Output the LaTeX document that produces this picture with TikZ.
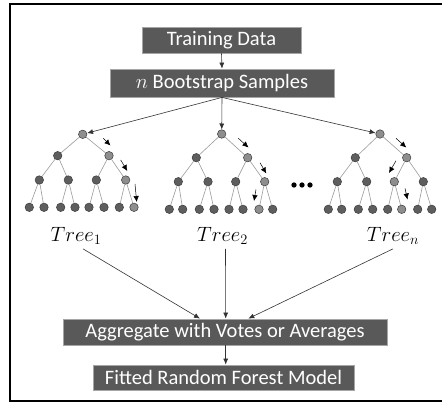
\documentclass[tikz,border=0pt]{standalone}
\usepackage{fontspec}
\setmainfont{Carlito}
\usetikzlibrary{arrows.meta}

\definecolor{boxfill}{HTML}{595959}
\definecolor{boxline}{HTML}{A6A6A6}
\definecolor{nodefill}{HTML}{5E5E5E}
\definecolor{nodehl}{HTML}{8E8E8E}
\definecolor{nodeline}{HTML}{3C3C3C}
\definecolor{edgegray}{HTML}{9A9A9A}

\tikzset{
  stage/.style={draw=boxline, line width=0.8pt, fill=boxfill, text=white,
    inner sep=0pt, font=\fontsize{20.5}{24}\selectfont},
  nd/.style={circle, draw=nodeline, line width=0.5pt, fill=nodefill,
    minimum size=8.5pt, inner sep=0pt},
  hl/.style={nd, fill=nodehl},
  edge/.style={draw=edgegray, line width=0.6pt},
  flow/.style={draw=black!80, line width=0.6pt, -{Latex[length=6pt,width=5pt]}},
  walk/.style={draw=black, line width=0.5pt, -{Latex[length=6pt,width=5.5pt]}},
  treelab/.style={inner sep=0pt, font=\fontsize{19.5}{24}\selectfont},
}

% one level of a tree: prefix, y, highlighted index, x positions
\newcommand\treelevel[4]{%
  \foreach \x [count=\i] in {#4} {%
    \ifnum\i=#3\relax\def\st{hl}\else\def\st{nd}\fi
    \node[\st] (#1\i) at (\x,#2) {};
  }%
}
% the branches of a full binary tree of depth four
\newcommand\treeedges[1]{%
  \draw[edge] (#1a1) -- (#1b1) (#1a1) -- (#1b2);
  \foreach \i in {1,2} {%
    \pgfmathtruncatemacro\p{2*\i-1}\pgfmathtruncatemacro\q{2*\i}%
    \draw[edge] (#1b\i) -- (#1c\p) (#1b\i) -- (#1c\q);
  }%
  \foreach \i in {1,...,4} {%
    \pgfmathtruncatemacro\p{2*\i-1}\pgfmathtruncatemacro\q{2*\i}%
    \draw[edge] (#1c\i) -- (#1d\p) (#1c\i) -- (#1d\q);
  }%
}

\begin{document}
\begin{tikzpicture}[x=1pt,y=-1pt]
\useasboundingbox (0,0) rectangle (442,402);

% outer frame
\draw[black, line width=1.3pt] (443,4) -- (10,4) -- (10,401) -- (443,401);

% stages
\node[stage, minimum width=159pt, minimum height=26pt] (train) at (221.5,40) {Training Data};
\node[stage, minimum width=224pt, minimum height=28pt] (boot) at (222,83) {$n$ Bootstrap Samples};
\node[stage, minimum width=324pt, minimum height=26pt] (agg) at (225,332) {Aggregate with Votes or Averages};
\node[stage, minimum width=261pt, minimum height=25pt] (fit) at (223.5,377.5) {Fitted Random Forest Model};

% tree 1
\treelevel{pa}{134.3}{1}{82.7}
\treelevel{pb}{155.7}{2}{57.7,109}
\treelevel{pc}{180}{4}{39.3,68.3,96.3,125.7}
\treelevel{pd}{207.3}{8}{29.3,44,60.7,75,89,104,119.3,134}
\treeedges{p}

% tree 2
\treelevel{qa}{134}{1}{221.7}
\treelevel{qb}{157.7}{2}{196.3,247.7}
\treelevel{qc}{181.7}{4}{178.3,208,235.7,264.7}
\treelevel{qd}{209.3}{7}{169.3,182.7,199.3,214,229,243,259,272.7}
\treeedges{q}

% tree n
\treelevel{ra}{134}{1}{380}
\treelevel{rb}{157.7}{2}{355.3,406.7}
\treelevel{rc}{181.7}{3}{337.3,366.7,394.3,423.3}
\treelevel{rd}{209.3}{6}{328.3,341.7,358.3,372.7,387.7,401.7,417.7,431.7}
\treeedges{r}

% ellipsis between trees
\foreach \x [count=\i] in {294,302,310}
  \node[circle, fill=black, minimum size=5.3pt, inner sep=0pt] (dot\i) at (\x,185) {};

% samples feeding the trees
\draw[flow] (boot.south) -- (pa1);
\draw[flow] (boot.south) -- (qa1);
\draw[flow] (boot.south) -- (ra1);
\draw[flow] (train.south) -- (boot.north);

% decision paths
\coordinate (p1s) at (103.3,138.3); \coordinate (p1e) at (110.5,145.5);
\coordinate (p2s) at (120.7,160);   \coordinate (p2e) at (127.3,171);
\coordinate (p3s) at (135,184);     \coordinate (p3e) at (136.7,202);
\draw[walk] (p1s) -- (p1e); \draw[walk] (p2s) -- (p2e); \draw[walk] (p3s) -- (p3e);

\coordinate (q1s) at (238.3,138.3); \coordinate (q1e) at (248.5,147.5);
\coordinate (q2s) at (260,162.7);   \coordinate (q2e) at (266.3,173.5);
\coordinate (q3s) at (256,189.3);   \coordinate (q3e) at (254,201);
\draw[walk] (q1s) -- (q1e); \draw[walk] (q2s) -- (q2e); \draw[walk] (q3s) -- (q3e);

\coordinate (r1s) at (396,138.3);   \coordinate (r1e) at (406.3,147.5);
\coordinate (r2s) at (396,160.7);   \coordinate (r2e) at (389,173);
\coordinate (r3s) at (405,188.3);   \coordinate (r3e) at (407.5,199.5);
\draw[walk] (r1s) -- (r1e); \draw[walk] (r2s) -- (r2e); \draw[walk] (r3s) -- (r3e);

% tree labels
\node[treelab] (lab1) at (76,236) {$Tree_1$};
\node[treelab] (lab2) at (222.5,236) {$Tree_2$};
\node[treelab] (labn) at (393,236) {$Tree_n$};

% aggregation
\draw[flow] ([xshift=7pt,yshift=-4pt]lab1.south) -- ([xshift=-25pt]agg.north);
\draw[flow] ([xshift=3pt,yshift=-4pt]lab2.south) -- ([xshift=0.7pt]agg.north);
\draw[flow] ([xshift=0pt,yshift=-4pt]labn.south) -- ([xshift=23.3pt]agg.north);
\draw[flow] ([xshift=0.7pt]agg.south) -- ([xshift=2.2pt]fit.north);
\end{tikzpicture}
\end{document}
